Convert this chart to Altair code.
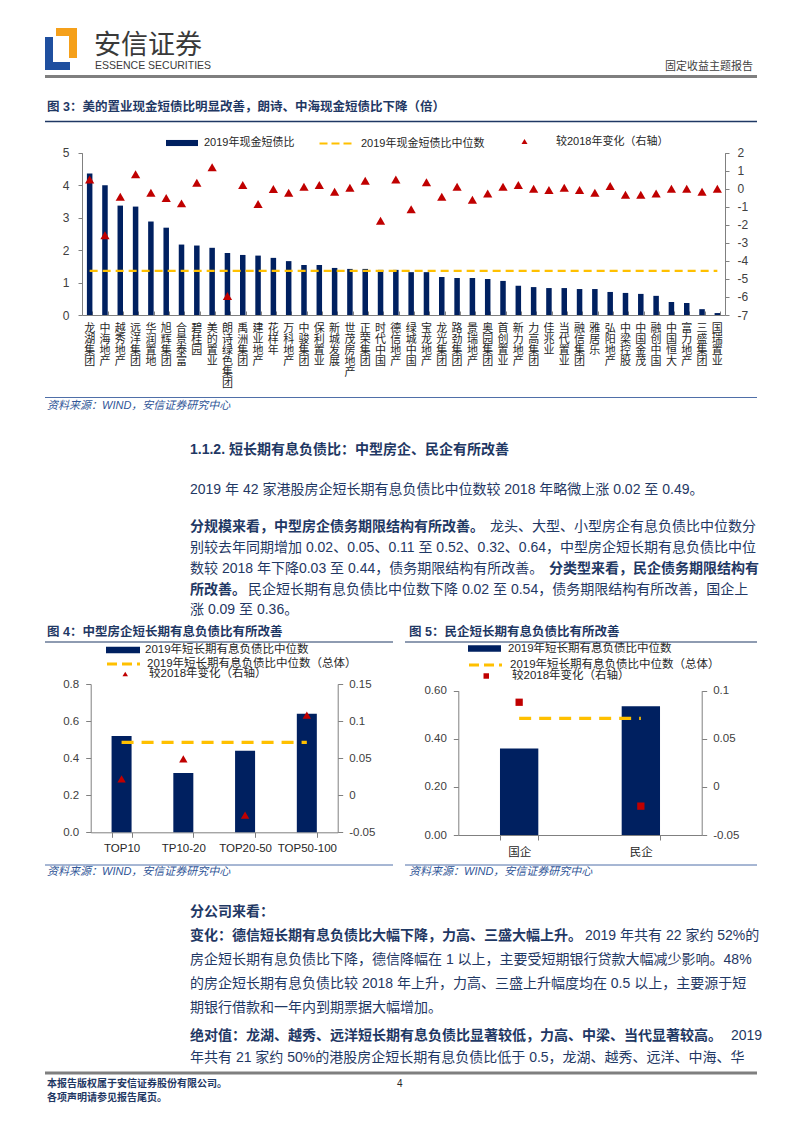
import altair as alt
import pandas as pd

# ------------------------------------------------------------------ data
companies = ["龙湖集团", "中海地产", "越秀地产", "远洋集团", "华润置地", "旭辉集团", "合景泰富",
             "碧桂园", "美的置业", "朗诗绿色集团", "禹洲集团", "建业地产", "花样年", "万科地产",
             "中骏集团", "保利置业", "新城发展", "世茂房地产", "正荣集团", "时代中国", "德信地产",
             "绿城中国", "宝龙地产", "龙光集团", "路劲集团", "景瑞地产", "奥园集团", "首创置业",
             "新力地产", "力高集团", "佳兆业", "当代置业", "融信集团", "雅居乐", "弘阳地产",
             "中梁控股", "中国金茂", "融创中国", "中国恒大", "富力地产", "三盛集团", "国瑞置业"]
cash_ratio_2019 = [4.36, 4.00, 3.37, 3.34, 2.88, 2.69, 2.17, 2.14, 2.07, 1.91, 1.85, 1.83, 1.76,
                   1.66, 1.54, 1.54, 1.45, 1.42, 1.42, 1.39, 1.39, 1.32, 1.32, 1.17, 1.14, 1.14,
                   1.11, 1.05, 0.90, 0.86, 0.83, 0.83, 0.80, 0.80, 0.71, 0.68, 0.65, 0.59, 0.40,
                   0.37, 0.18, 0.06]
cash_change_vs_2018 = [0.52, -2.58, -0.44, 0.80, -0.22, -0.51, -0.81, 0.34, 1.19, -5.95, 0.21,
                       -0.85, -0.01, -0.22, 0.11, 0.21, -0.16, 0.06, 0.45, -1.77, 0.52, -1.14,
                       0.36, -0.44, 0.11, -0.61, -0.26, 0.11, 0.21, 0.00, -0.07, 0.06, -0.07,
                       -0.22, 0.15, -0.33, -0.33, -0.26, 0.00, 0.00, -0.16, 0.00]
cash_ratio_median_2019 = 1.36

size_groups = ["TOP10", "TP10-20", "TOP20-50", "TOP50-100"]
size_debt_ratio_2019 = [0.52, 0.32, 0.44, 0.64]
size_change_vs_2018 = [0.022, 0.049, -0.027, 0.108]

owner_groups = ["国企", "民企"]
owner_debt_ratio_2019 = [0.36, 0.535]
owner_change_vs_2018 = [0.088, -0.02]

debt_ratio_median_all = 0.485

# ------------------------------------------------------------------ style
M = 8
W, H = 784, 1116
CJK = "Noto Sans CJK SC"
MIX = "Liberation Sans, Noto Sans CJK SC"
NUM = "Liberation Sans"
NAVY = "#1f3864"
BAR = "#002060"
RED = "#c00000"
YELLOW = "#ffc000"
AXIS = "#808080"
LABEL = "#262626"
SRC = "#2f5597"


def px(v):
    return v - M


def one():
    return alt.Chart(alt.Data(values=[{}]))


def txt(s, x, y, size=14, color=NAVY, weight="normal", align="left", font=MIX, style="normal"):
    return one().mark_text(text=s, align=align, baseline="middle", fontSize=size, font=font,
                           fontWeight=weight, fontStyle=style, color=color).encode(
        x=alt.value(px(x)), y=alt.value(px(y)))


def hrule(x1, x2, y, color, width):
    return one().mark_rule(color=color, strokeWidth=width).encode(
        x=alt.value(px(x1)), x2=alt.value(px(x2)), y=alt.value(px(y)))


def box(x1, y1, x2, y2, color):
    return one().mark_rect(color=color).encode(
        x=alt.value(px(x1)), x2=alt.value(px(x2)), y=alt.value(px(y1)), y2=alt.value(px(y2)))


def xscale(domain, x0, x1, pi):
    return alt.Scale(domain=domain, range=[px(x0), px(x1)], paddingInner=pi, paddingOuter=pi / 2)


def yscale(dom, ytop, ybot, zero=True):
    return alt.Scale(domain=dom, range=[px(ybot), px(ytop)], nice=False, zero=zero)


def legend(x, cy, sym, size, offset, fs=11.5, dash=None, sw=None):
    # legend rows are as tall as the larger of the symbol box and the label
    row = max(size ** 0.5, fs + 1)
    kw = dict(orient="none", legendX=px(x), legendY=px(cy - row / 2), title=None,
              symbolType=sym, symbolSize=size, labelOffset=offset, labelFont=MIX,
              labelFontSize=fs, labelColor=LABEL, labelLimit=500, padding=0, rowPadding=0)
    if dash is not None:
        kw["symbolDash"] = dash
    if sw is not None:
        kw["symbolStrokeWidth"] = sw
    return alt.Legend(**kw)


def yaxis(orient, xpos, values, fmt=None, expr=None, fs=12, tick=4, pad=7):
    off = -px(xpos) if orient == "left" else px(xpos) - W
    kw = dict(orient=orient, offset=off, values=values, title=None, grid=False,
              domainColor=AXIS, tickColor=AXIS, tickSize=tick, labelPadding=pad,
              labelFont=NUM, labelFontSize=fs, labelColor="#404040")
    if fmt:
        kw["format"] = fmt
    if expr:
        kw["labelExpr"] = expr
    return alt.Axis(**kw)


MINUS = "replace(datum.label, '\u2212', '-')"
RECT_SYM = "M-1,-0.19H1V0.19H-1Z"

layers = []

# ------------------------------------------------------------------ header
layers += [
    box(56, 28, 77, 36, "#f5a01a"), box(69, 28, 77, 58, "#f5a01a"),
    box(45, 37, 53, 70, "#1f4f9f"), box(45, 62, 70, 70, "#1f4f9f"),
    txt("安信证券", 94, 46, size=27, color="#3a3a3a", font=CJK),
    txt("ESSENCE SECURITIES", 95, 66, size=10.5, color="#3a3a3a",
        font="Liberation Sans Narrow, Liberation Sans"),
    txt("固定收益主题报告", 753, 67, size=11, color="#3f3f3f", align="right", font=CJK),
    hrule(45, 757, 76.5, "#7f7f7f", 3),
    txt("图 3：美的置业现金短债比明显改善，朗诗、中海现金短债比下降（倍）", 47, 107, size=12.5,
        weight="bold"),
    hrule(45, 757, 121.5, NAVY, 1.5),
]

# ------------------------------------------------------------------ figure 3
df3 = pd.DataFrame({"company": companies, "ratio": cash_ratio_2019,
                    "change": cash_change_vs_2018})
df3["median"] = cash_ratio_median_2019
C3_X0, C3_X1, C3_T, C3_B = 82, 725, 152.7, 315

bars3 = alt.Chart(df3).transform_calculate(s="'2019年现金短债比'").mark_bar(color=BAR).encode(
    x=alt.X("company:N", scale=xscale(companies, C3_X0, C3_X1, 0.64), axis=alt.Axis(
        orient="bottom", offset=px(C3_B) - H, title=None, domainColor=AXIS, ticks=False,
        labelExpr="split(datum.label, '')", labelFont=CJK, labelFontSize=11,
        labelLineHeight=11, labelBaseline="top", labelAngle=0, labelAlign="center",
        labelPadding=7, labelColor=LABEL, labelOverlap=False, grid=False, labelBound=False,
        labelFlush=False)),
    y=alt.Y("ratio:Q", stack=None, scale=yscale([0, 5], C3_T, C3_B),
            axis=yaxis("left", C3_X0, [0, 1, 2, 3, 4, 5], fmt="d", pad=9)),
    color=alt.Color("s:N", scale=alt.Scale(range=[BAR]),
                    legend=legend(165, 142, RECT_SYM, 1024, 5, fs=11)),
)
line3 = alt.Chart(df3).transform_calculate(s="'2019年现金短债比中位数'").mark_line(
    strokeDash=[8, 5], strokeWidth=2.2).encode(
    x=alt.X("company:N", scale=xscale(companies, C3_X0, C3_X1, 0.64), axis=alt.Axis(
        orient="bottom", offset=px(C3_B - 4) - H, title=None, domain=False, labels=False,
        ticks=True, tickBand="extent", tickSize=4, tickColor=AXIS, grid=False)),
    y=alt.Y("median:Q", scale=yscale([0, 5], C3_T, C3_B), axis=None),
    color=alt.Color("s:N", scale=alt.Scale(range=[YELLOW]),
                    legend=legend(318, 142, "stroke", 1225, 5, fs=11, dash=[8, 4], sw=2.2)),
)
tri3 = alt.Chart(df3).transform_calculate(s="'较2018年变化（右轴）'").mark_point(
    shape="triangle-up", filled=True, size=85, opacity=1).encode(
    x=alt.X("company:N", scale=xscale(companies, C3_X0, C3_X1, 0.64), axis=None),
    y=alt.Y("change:Q", scale=yscale([-7, 2], C3_T, C3_B, zero=False),
            axis=yaxis("right", C3_X1, list(range(-7, 3)), fmt="d", expr=MINUS, pad=8)),
    color=alt.Color("s:N", scale=alt.Scale(range=[RED]),
                    legend=legend(519, 142, "triangle-up", 36, 26, fs=11)),
)
layers += [bars3, line3, tri3]

layers += [
    hrule(45, 757, 397.5, "#4f6fa8", 1),
    txt("资料来源：WIND，安信证券研究中心", 47, 405.5, size=11, color=SRC, style="italic"),
]

# ------------------------------------------------------------------ body text 1
layers += [
    txt("1.1.2. 短长期有息负债比：中型房企、民企有所改善", 190, 450, size=14, weight="bold"),
    txt("2019 年 42 家港股房企短长期有息负债比中位数较 2018 年略微上涨 0.02 至 0.49。", 190, 490),
    txt("分规模来看，中型房企债务期限结构有所改善。", 190, 527, weight="bold"),
    txt("龙头、大型、小型房企有息负债比中位数分", 490, 527),
    txt("别较去年同期增加 0.02、0.05、0.11 至 0.52、0.32、0.64，中型房企短长期有息负债比中位", 190, 548),
    txt("数较 2018 年下降0.03 至 0.44，债务期限结构有所改善。", 190, 569),
    txt("分类型来看，民企债务期限结构有", 549, 569, weight="bold"),
    txt("所改善。", 190, 590, weight="bold"),
    txt("民企短长期有息负债比中位数下降 0.02 至 0.54，债务期限结构有所改善，国企上", 248, 590),
    txt("涨 0.09 至 0.36。", 190, 610),
]

# ------------------------------------------------------------------ figure 4 / 5 titles
layers += [
    txt("图 4：中型房企短长期有息负债比有所改善", 47, 632, size=12.5, weight="bold"),
    txt("图 5：民企短长期有息负债比有所改善", 409, 632, size=12.5, weight="bold"),
    hrule(45, 393, 642, NAVY, 1.2),
    hrule(405, 757, 642, NAVY, 1.2),
]

# ------------------------------------------------------------------ figure 4
df4 = pd.DataFrame({"group": size_groups, "ratio": size_debt_ratio_2019,
                    "change": size_change_vs_2018})
df4["median"] = debt_ratio_median_all
C4_X0, C4_X1, C4_T, C4_B = 90.7, 337.7, 684, 832.3

bars4 = alt.Chart(df4).transform_calculate(s="'2019年短长期有息负债比中位数'").mark_bar(
    color=BAR).encode(
    x=alt.X("group:N", scale=xscale(size_groups, C4_X0, C4_X1, 0.676), axis=alt.Axis(
        orient="bottom", offset=px(C4_B) - H, title=None, domainColor=AXIS, tickColor=AXIS,
        tickBand="extent", tickSize=5, labelPadding=5, labelFont=NUM, labelFontSize=11.5,
        labelColor=LABEL, labelAngle=0, labelOverlap=False, grid=False)),
    y=alt.Y("ratio:Q", stack=None, scale=yscale([0, 0.8], C4_T, C4_B),
            axis=yaxis("left", C4_X0, [0, 0.2, 0.4, 0.6, 0.8], fmt=".1f", fs=11.5, tick=5,
                       pad=7)),
    color=alt.Color("s:N", scale=alt.Scale(range=[BAR]),
                    legend=legend(105, 649, RECT_SYM, 1156, 4)),
)
line4 = alt.Chart(df4).transform_calculate(s="'2019年短长期有息负债比中位数（总体）'").mark_line(
    strokeDash=[12, 8], strokeWidth=3.2).encode(
    x=alt.X("group:N", scale=xscale(size_groups, C4_X0, C4_X1, 0.676), axis=None),
    y=alt.Y("median:Q", scale=yscale([0, 0.8], C4_T, C4_B), axis=None),
    color=alt.Color("s:N", scale=alt.Scale(range=[YELLOW]),
                    legend=legend(105, 662, "stroke", 1089, 5, dash=[10, 5], sw=3.2)),
)
tri4 = alt.Chart(df4).transform_calculate(s="'较2018年变化（右轴）'").mark_point(
    shape="triangle-up", filled=True, size=70, opacity=1).encode(
    x=alt.X("group:N", scale=xscale(size_groups, C4_X0, C4_X1, 0.676), axis=None),
    y=alt.Y("change:Q", scale=yscale([-0.05, 0.15], C4_T, C4_B, zero=False),
            axis=yaxis("right", C4_X1, [-0.05, 0, 0.05, 0.1, 0.15], fmt=".2~f", expr=MINUS,
                       fs=11.5, tick=5, pad=6)),
    color=alt.Color("s:N", scale=alt.Scale(range=[RED]),
                    legend=legend(119.5, 674.5, "triangle-up", 30, 18)),
)
layers += [bars4, line4, tri4]

# ------------------------------------------------------------------ figure 5
df5 = pd.DataFrame({"group": owner_groups, "ratio": owner_debt_ratio_2019,
                    "change": owner_change_vs_2018})
df5["median"] = debt_ratio_median_all
C5_X0, C5_X1, C5_T, C5_B = 458.3, 701.7, 690.7, 835

bars5 = alt.Chart(df5).transform_calculate(s="'2019年短长期有息负债比中位数'").mark_bar(
    color=BAR).encode(
    x=alt.X("group:N", scale=xscale(owner_groups, C5_X0, C5_X1, 0.685), axis=alt.Axis(
        orient="bottom", offset=px(C5_B) - H, title=None, domainColor=AXIS, tickColor=AXIS,
        tickBand="extent", tickSize=5, labelPadding=6, labelFont=CJK, labelFontSize=11.5,
        labelColor=LABEL, labelAngle=0, labelOverlap=False, grid=False)),
    y=alt.Y("ratio:Q", stack=None, scale=yscale([0, 0.6], C5_T, C5_B),
            axis=yaxis("left", C5_X0, [0, 0.2, 0.4, 0.6], fmt=".2f", fs=11.5, tick=5, pad=7)),
    color=alt.Color("s:N", scale=alt.Scale(range=[BAR]),
                    legend=legend(467, 647.5, RECT_SYM, 1089, 6)),
)
line5 = alt.Chart(df5).transform_calculate(s="'2019年短长期有息负债比中位数（总体）'").mark_line(
    strokeDash=[12, 8], strokeWidth=3.2).encode(
    x=alt.X("group:N", scale=xscale(owner_groups, C5_X0, C5_X1, 0.685), axis=None),
    y=alt.Y("median:Q", scale=yscale([0, 0.6], C5_T, C5_B), axis=None),
    color=alt.Color("s:N", scale=alt.Scale(range=[YELLOW]),
                    legend=legend(467, 663, "stroke", 1089, 6, dash=[10, 5], sw=3.2)),
)
sq5 = alt.Chart(df5).transform_calculate(s="'较2018年变化（右轴）'").mark_point(
    shape="square", filled=True, size=53, opacity=1).encode(
    x=alt.X("group:N", scale=xscale(owner_groups, C5_X0, C5_X1, 0.685), axis=None),
    y=alt.Y("change:Q", scale=yscale([-0.05, 0.1], C5_T, C5_B, zero=False),
            axis=yaxis("right", C5_X1, [-0.05, 0, 0.05, 0.1], fmt=".2~f", expr=MINUS,
                       fs=11.5, tick=5, pad=6)),
    color=alt.Color("s:N", scale=alt.Scale(range=[RED]),
                    legend=legend(480.5, 676.5, "square", 30, 20)),
)
layers += [bars5, line5, sq5]

layers += [
    hrule(45, 393, 865, "#4f6fa8", 1),
    hrule(405, 757, 865, "#4f6fa8", 1),
    txt("资料来源：WIND，安信证券研究中心", 47, 872, size=11, color=SRC, style="italic"),
    txt("资料来源：WIND，安信证券研究中心", 409, 872, size=11, color=SRC, style="italic"),
]

# ------------------------------------------------------------------ body text 2
layers += [
    txt("分公司来看：", 190, 912, weight="bold"),
    txt("变化：德信短长期有息负债比大幅下降，力高、三盛大幅上升。", 190, 936, weight="bold"),
    txt("2019 年共有 22 家约 52%的", 585, 936),
    txt("房企短长期有息负债比下降，德信降幅在 1 以上，主要受短期银行贷款大幅减少影响。48%", 190, 960),
    txt("的房企短长期有息负债比较 2018 年上升，力高、三盛上升幅度均在 0.5 以上，主要源于短", 190, 984),
    txt("期银行借款和一年内到期票据大幅增加。", 190, 1008),
    txt("绝对值：龙湖、越秀、远洋短长期有息负债比显著较低，力高、中梁、当代显著较高。", 190, 1036,
        weight="bold"),
    txt("2019", 731, 1036),
    txt("年共有 21 家约 50%的港股房企短长期有息负债比低于 0.5，龙湖、越秀、远洋、中海、华", 190, 1058),
]

# ------------------------------------------------------------------ footer
layers += [
    hrule(45, 757, 1073, "#7f7f7f", 3),
    txt("本报告版权属于安信证券股份有限公司。", 47, 1084, size=10, weight="bold"),
    txt("各项声明请参见报告尾页。", 47, 1098, size=10, weight="bold"),
    txt("4", 397, 1084, size=10, color=LABEL, font=NUM),
]

page = alt.layer(*layers).resolve_scale(
    x="independent", y="independent", color="independent"
).resolve_axis(x="independent", y="independent").resolve_legend(color="independent").properties(
    width=W, height=H, padding=0, background="white",
    autosize=alt.AutoSizeParams(type="none"),
).configure_view(stroke=None)

page.save("out.html", embed_options={"renderer": "svg", "actions": False})
